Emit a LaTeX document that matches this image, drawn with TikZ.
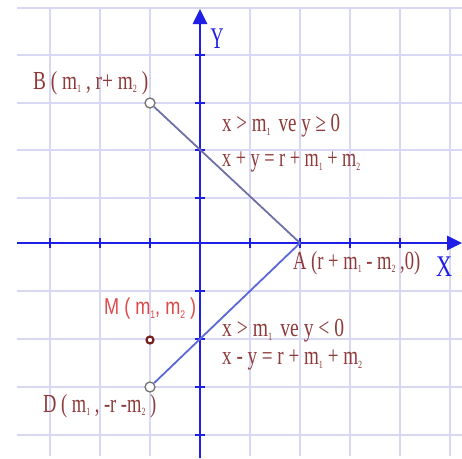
\documentclass[tikz,border=0pt]{standalone}
\usepackage{fontspec}
\setmainfont{Liberation Serif}
\newfontfamily\sansf{Liberation Sans}
\usetikzlibrary{arrows.meta}
\definecolor{gridc}{HTML}{D8D8F4}
\definecolor{axisc}{HTML}{1E1EE6}
\definecolor{lblc}{HTML}{8E3A3A}
\definecolor{mlblc}{HTML}{E04848}
\definecolor{lineBA}{HTML}{6E70A8}
\definecolor{lineDA}{HTML}{5A68D8}
\definecolor{mptc}{HTML}{7A1E1E}
\newcommand\fw[2]{\resizebox{#1}{\height}{#2}}
\newcommand\sbs[1]{\raisebox{-0.3ex}{\fontsize{11}{11}\selectfont #1}}
\tikzset{
  gridline/.style={draw=gridc, line width=1.4pt},
  axisline/.style={draw=axisc, line width=2.6pt, -{Triangle[width=14pt,length=15pt]}},
  tickmark/.style={draw=axisc, line width=1.6pt},
  lbl/.style={text=lblc, inner sep=0pt, anchor=west, font=\fontsize{26}{26}\selectfont},
  mlbl/.style={text=mlblc, inner sep=0pt, anchor=west, font=\sansf\fontsize{23}{23}\selectfont},
  axlbl/.style={text=axisc, inner sep=0pt, font=\fontsize{30}{30}\selectfont},
  openpt/.style={circle, draw=black!55, line width=1.3pt, fill=white, inner sep=0pt, minimum size=10pt},
  mpt/.style={circle, draw=mptc, line width=2.2pt, fill=white, inner sep=0pt, minimum size=7pt},
}
\begin{document}
\begin{tikzpicture}[x=1pt,y=-1pt]
\useasboundingbox (0,0) rectangle (462,458);
\fill[white] (0,0) rectangle (462,458);
% grid
\foreach \yy in {8,55,103,150,198,291,339,387,435}
  \draw[gridline] (17,\yy) -- (462,\yy);
\foreach \xx in {50,100,150,250,300,350,400,450}
  \draw[gridline] (\xx,8) -- (\xx,456);
% axes
\coordinate (xs) at (17,243);
\coordinate (xe) at (462,243);
\coordinate (ys) at (200,458);
\coordinate (ye) at (200,9);
\draw[axisline] (xs) -- (xe);
\draw[axisline] (ys) -- (ye);
% ticks
\foreach \yy in {55,103,150,198,291,339,387,435}
  \draw[tickmark] (195,\yy) -- (205,\yy);
\foreach \xx in {50,100,150,250,300,350,400}
  \draw[tickmark] (\xx,238) -- (\xx,248);
% axis labels
\node[axlbl] (Y) at (217,39) {\fw{13pt}{Y}};
\node[axlbl] (X) at (444,267) {\fw{16pt}{X}};
% points
\coordinate (A) at (300,243);
\node[openpt] (B) at (150,103) {};
\node[openpt] (D) at (150,387) {};
\node[mpt] (M) at (150,340) {};
\draw[lineBA, line width=1.8pt] (B) -- (A);
\draw[lineDA, line width=1.8pt] (D) -- (A);
% labels
\node[lbl] (Bl) at (33,83) {\fw{115pt}{B ( m\sbs{1} , r+ m\sbs{2} )}};
\node[lbl] (c1) at (222,126) {\fw{118pt}{x > m\sbs{1}\, ve y ≥ 0}};
\node[lbl] (c2) at (222,162) {\fw{138pt}{x + y = r + m\sbs{1} + m\sbs{2}}};
\node[lbl] (Al) at (293,263) {\fw{127pt}{A (r + m\sbs{1} - m\sbs{2} ,0)}};
\node[mlbl] (Ml) at (104,309) {\fw{92pt}{M ( m\sbs{1}, m\sbs{2} )}};
\node[lbl] (c3) at (222,331) {\fw{122pt}{x > m\sbs{1}\, ve y < 0}};
\node[lbl] (c4) at (222,360) {\fw{140pt}{x - y = r + m\sbs{1} + m\sbs{2}}};
\node[lbl] (Dl) at (43,406) {\fw{113pt}{D ( m\sbs{1} , -r -m\sbs{2} )}};
\end{tikzpicture}
\end{document}
